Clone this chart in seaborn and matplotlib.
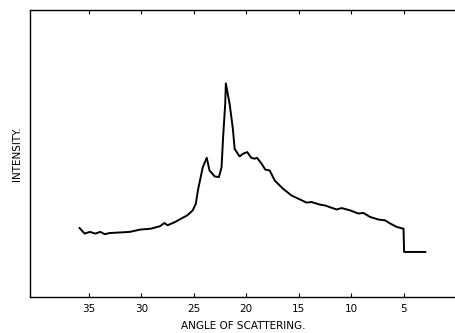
import pandas as pd
import matplotlib
matplotlib.use("Agg")
import matplotlib.pyplot as plt
import seaborn as sns

# angle of scattering (degrees) and intensity (arbitrary units)
angle = [35.9, 35.4, 34.9, 34.4, 33.9, 33.5, 33.0, 32.0, 31.1, 30.1, 29.1, 28.2,
         27.8, 27.5, 26.8, 26.2, 25.6, 25.1, 24.8, 24.6, 24.14, 23.76, 23.5, 23.0,
         22.6, 22.35, 22.2, 22.0, 21.94, 21.58, 21.27, 21.1, 20.63, 20.31, 19.9, 19.52,
         19.19, 18.97, 18.56, 18.18, 17.76, 17.28, 16.48, 15.69, 15.05, 14.25, 13.78, 12.97,
         12.49, 11.38, 10.9, 10.1, 9.31, 8.83, 8.19, 7.39, 6.75, 6.27, 5.64, 5.0,
         4.95, 2.9]
intensity = [24.1, 22.1, 22.7, 22.1, 22.7, 21.9, 22.3, 22.5, 22.7, 23.5, 23.8, 24.7,
             25.8, 25.0, 26.1, 27.3, 28.5, 30.2, 32.5, 37.2, 45.2, 48.5, 44.1, 42.0,
             41.8, 45.2, 55.7, 67.3, 74.4, 67.3, 58.6, 51.6, 49.0, 49.9, 50.5, 48.5,
             48.2, 48.5, 46.6, 44.4, 44.1, 40.6, 37.7, 35.4, 34.3, 32.9, 33.1, 32.2,
             31.9, 30.5, 31.0, 30.2, 29.1, 29.3, 27.9, 27.0, 26.7, 25.6, 24.4, 23.8,
             15.7, 15.7]
xticks = [35, 30, 25, 20, 15, 10, 5]

df = pd.DataFrame({"angle": angle, "intensity": intensity})

sns.set_style("ticks")
plt.rcParams["font.family"] = ["DejaVu Sans"]
plt.rcParams["text.color"] = "black"
plt.rcParams["axes.labelcolor"] = "black"
plt.rcParams["xtick.color"] = "black"

fig = plt.figure(figsize=(4.56, 3.33), dpi=100)
ax = fig.add_axes([0.066, 0.108, 0.934, 0.862])

sns.lineplot(data=df, x="angle", y="intensity", sort=False, color="black",
             linewidth=1.4, ax=ax)

ax.set_xlim(40.6, 0)
ax.set_ylim(0, 100)
ax.set_xticks(xticks)
ax.set_xticklabels([str(t) for t in xticks], fontsize=7.5)
ax.set_yticks([])
ax.tick_params(axis="x", direction="in", top=True, bottom=True, length=3, width=0.8,
               pad=5, colors="black")
ax.set_xlabel("ANGLE OF SCATTERING.", fontsize=7.5, labelpad=5)
ax.set_ylabel("INTENSITY.", fontsize=7.5, labelpad=6)

for side in ["left", "bottom", "top"]:
    ax.spines[side].set_linewidth(1.0)
    ax.spines[side].set_color("black")
ax.spines["right"].set_visible(False)

fig.savefig("out.png", dpi=100)
